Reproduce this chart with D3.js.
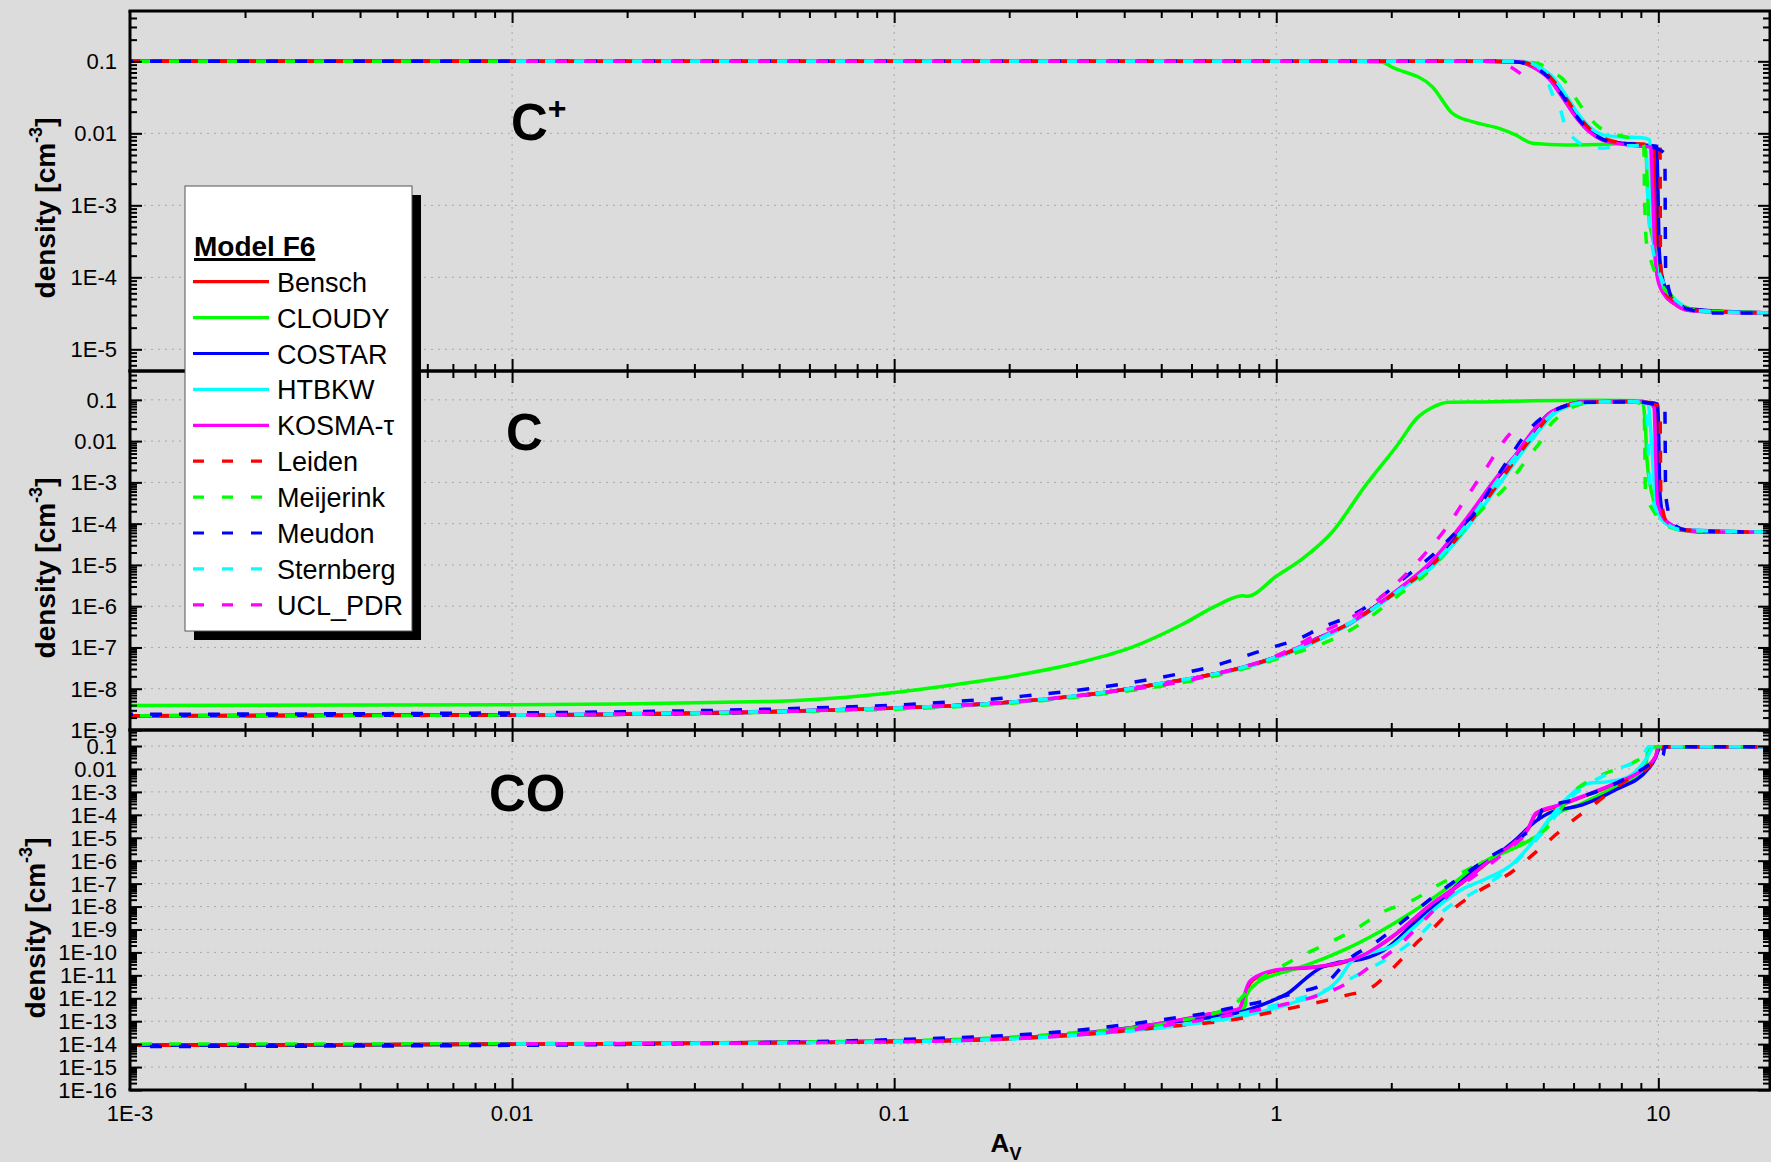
<!DOCTYPE html>
<html><head><meta charset="utf-8">
<script src="https://cdn.jsdelivr.net/npm/d3@7"></script>
<style>html,body{margin:0;padding:0;background:#dcdcdc;}svg{display:block;}</style>
</head><body>
<svg id="chart" width="1771" height="1162"></svg>
<script>
// ---------- series names ----------
const seriesNames = ["Bensch","CLOUDY","COSTAR","HTBKW","KOSMA-\u03c4","Leiden","Meijerink","Meudon","Sternberg","UCL_PDR"];
const xTickValues = [1e-3, 1e-2, 1e-1, 1, 10];
const xTickLabels = ["1E-3","0.01","0.1","1","10"];

// ---------- C+ panel : [A_V, density] ----------
const cp_Bensch = [[0.001,0.1],[3.5,0.1],[4.3,0.099],[4.78,0.08],[5.16,0.06],[5.6,0.033],[6.07,0.0175],[6.58,0.0108],[7.13,8.2e-3],[7.87,7.3e-3],[9.06,6.7e-3],[9.7,6.5e-3],[9.8,1.5e-3],[9.9,2.5e-4],[10.0,1.1e-4],[10.4,5.8e-5],[11,4.3e-5],[12,3.5e-5],[19.6,3.2e-5]];
const cp_CLOUDY = [[0.001,0.1],[1.5,0.1],[1.89,0.098],[2.0,0.084],[2.56,0.0445],[2.89,0.019],[3.26,0.0145],[3.83,0.0117],[4.23,0.0095],[4.68,7.3e-3],[5.72,6.9e-3],[6.98,7.0e-3],[8.5,7.2e-3],[9.25,6.5e-3],[9.44,7.0e-4],[9.6,4.1e-4],[9.93,1.93e-4],[10.2,9.2e-5],[10.87,5.4e-5],[11.5,4.1e-5],[12.7,3.5e-5],[19.6,3.2e-5]];
const cp_COSTAR = [[0.001,0.1],[3.5,0.1],[4.3,0.099],[4.78,0.08],[5.16,0.062],[5.6,0.035],[6.07,0.019],[6.58,0.0112],[7.13,8.3e-3],[7.87,7.4e-3],[9.06,6.9e-3],[9.9,6.6e-3],[9.98,1.5e-3],[10.05,2.5e-4],[10.2,1.1e-4],[10.6,6.0e-5],[11.2,4.4e-5],[12.3,3.6e-5],[19.6,3.2e-5]];
const cp_HTBKW = [[0.01,0.1],[3.5,0.1],[4.4,0.1],[4.9,0.082],[5.3,0.06],[5.75,0.033],[6.2,0.018],[6.7,0.0115],[7.3,9.3e-3],[8.0,8.9e-3],[9.06,8.7e-3],[9.5,8.1e-3],[9.6,1.5e-3],[9.75,2.5e-4],[9.95,1.2e-4],[10.4,6.0e-5],[11,4.4e-5],[12,3.5e-5],[19.6,3.2e-5]];
const cp_KOSMA = [[0.01,0.1],[3.5,0.1],[4.3,0.099],[4.78,0.079],[5.16,0.058],[5.6,0.032],[6.07,0.017],[6.58,0.0106],[7.13,8.1e-3],[7.87,7.2e-3],[9.06,6.6e-3],[9.55,6.5e-3],[9.68,1.17e-3],[9.82,1.74e-4],[9.93,1.02e-4],[10.3,6.0e-5],[10.96,4.4e-5],[11.9,3.5e-5],[14.0,3.3e-5],[19.6,3.2e-5]];
const cp_Leiden = [[0.001,0.1],[3.5,0.1],[4.3,0.099],[4.85,0.08],[5.25,0.058],[5.7,0.032],[6.2,0.017],[6.7,0.0108],[7.3,8.3e-3],[8.0,7.4e-3],[9.06,7.1e-3],[10.1,6.8e-3],[10.13,1.6e-4],[10.3,7.1e-5],[11,4.7e-5],[12.5,3.5e-5],[19.6,3.2e-5]];
const cp_Meijerink = [[0.001,0.1],[4.3,0.1],[4.9,0.091],[5.27,0.072],[5.71,0.052],[6.07,0.031],[6.38,0.021],[6.98,0.0123],[7.57,0.01],[8.36,8.7e-3],[9.06,7.6e-3],[9.16,6.9e-3],[9.2,1.6e-3],[9.3,3.2e-4],[9.6,1.6e-4],[10.2,7.9e-5],[11,5.0e-5],[12.5,3.5e-5],[19.6,3.2e-5]];
const cp_Meudon = [[0.001,0.1],[3.5,0.1],[4.2,0.099],[4.7,0.085],[5.16,0.06],[5.6,0.034],[6.07,0.018],[6.58,0.011],[7.13,8.3e-3],[7.87,7.4e-3],[9.06,6.9e-3],[9.8,6.3e-3],[10.4,5.2e-3],[10.45,1.26e-4],[10.9,5.0e-5],[12,3.6e-5],[14,3.2e-5],[19.6,3.2e-5]];
const cp_Sternberg = [[0.01,0.1],[4.0,0.1],[4.6,0.095],[5.0,0.071],[5.32,0.032],[5.55,0.021],[5.71,0.0123],[6.01,8.5e-3],[6.58,6.5e-3],[7.13,6.2e-3],[7.94,6.6e-3],[9.0,6.8e-3],[9.3,5.6e-3],[9.4,1.0e-3],[9.6,3.2e-4],[10.0,1.26e-4],[10.5,7.1e-5],[11.5,4.2e-5],[13,3.4e-5],[19.6,3.2e-5]];
const cp_UCL = [[0.01,0.1],[3.8,0.1],[4.1,0.084],[4.4,0.065]];

// ---------- C panel ----------
const c_Bensch = [[0.001,2.2e-9],[0.01,2.3e-9],[0.1,3.4e-9],[0.2,4.7e-9],[0.31,6.9e-9],[0.465,1.2e-8],[0.695,2.3e-8],[0.849,3.6e-8],[1.0,5.9e-8],[1.147,9.3e-8],[1.27,1.6e-7],[1.4,2.3e-7],[1.56,3.8e-7],[1.71,6.8e-7],[2.1,2.6e-6],[2.56,1.15e-5],[3.13,1.07e-4],[3.45,4.0e-4],[3.83,1.45e-3],[4.24,4.5e-3],[4.68,1.6e-2],[5.16,4.5e-2],[5.71,7.1e-2],[6.32,8.9e-2],[8.53,9.1e-2],[9.3,8.7e-2],[9.8,8.3e-2],[9.9,5.0e-2],[9.97,1.0e-3],[10.1,2.0e-4],[10.4,1.1e-4],[11.5,7.1e-5],[12.7,6.3e-5],[19.6,6.2e-5]];
const c_CLOUDY = [[0.001,3.9e-9],[0.01,4.1e-9],[0.05,5.0e-9],[0.1,8.1e-9],[0.139,1.2e-8],[0.208,2.1e-8],[0.311,4.5e-8],[0.42,1.02e-7],[0.57,3.7e-7],[0.7,1.05e-6],[0.815,1.8e-6],[0.84,1.75e-6],[1.0,5.3e-6],[1.17,1.4e-5],[1.4,6.2e-5],[1.71,8.3e-4],[2.1,9.3e-3],[2.32,3.4e-2],[2.56,6.5e-2],[2.83,8.7e-2],[3.5,8.9e-2],[4.68,9.5e-2],[6.8,9.8e-2],[9.1,9.5e-2],[9.16,6.5e-2],[9.25,2.3e-2],[9.34,3.6e-3],[9.6,5.8e-4],[10.0,1.86e-4],[10.8,8.9e-5],[11.7,6.8e-5],[19.6,6.2e-5]];
const c_COSTAR = [[0.001,2.2e-9],[0.01,2.3e-9],[0.1,3.4e-9],[0.2,4.7e-9],[0.31,6.9e-9],[0.465,1.2e-8],[0.695,2.3e-8],[0.849,3.6e-8],[1.0,5.9e-8],[1.147,9.3e-8],[1.27,1.6e-7],[1.4,2.3e-7],[1.56,3.8e-7],[1.71,6.8e-7],[2.1,2.6e-6],[2.56,1.15e-5],[3.13,1.07e-4],[3.45,4.0e-4],[3.83,1.45e-3],[4.24,4.5e-3],[4.68,1.6e-2],[5.16,4.5e-2],[5.71,7.1e-2],[6.32,8.9e-2],[8.53,9.1e-2],[9.95,7.9e-2],[10.0,3.2e-2],[10.1,5.0e-4],[10.4,1.1e-4],[11.5,7.1e-5],[19.6,6.2e-5]];
const c_HTBKW = [[0.01,2.3e-9],[0.1,3.4e-9],[0.2,4.6e-9],[0.465,1.2e-8],[1.0,5.6e-8],[1.4,2.2e-7],[1.71,6.3e-7],[2.1,2.4e-6],[2.56,8.9e-6],[3.13,7.1e-5],[3.83,8.9e-4],[4.68,1.12e-2],[5.5,5.6e-2],[6.5,8.5e-2],[8.5,9.1e-2],[9.4,7.9e-2],[9.6,1.0e-2],[9.8,5.0e-4],[10.2,1.26e-4],[11.5,7.1e-5],[19.6,6.2e-5]];
const c_KOSMA = [[0.01,2.3e-9],[0.1,3.4e-9],[0.2,4.7e-9],[0.31,6.9e-9],[0.465,1.2e-8],[0.695,2.3e-8],[1.0,5.9e-8],[1.27,1.6e-7],[1.56,3.9e-7],[2.1,2.7e-6],[2.56,1.26e-5],[3.13,1.26e-4],[3.83,1.58e-3],[4.24,4.8e-3],[4.68,1.7e-2],[5.16,4.6e-2],[5.71,7.2e-2],[6.32,8.9e-2],[8.53,9.1e-2],[9.5,8.3e-2],[9.75,6.3e-2],[9.85,3.2e-3],[9.95,3.2e-4],[10.4,1.26e-4],[11.5,7.4e-5],[12.7,6.5e-5],[19.6,6.2e-5]];
const c_Leiden = [[0.001,2.2e-9],[0.01,2.3e-9],[0.1,3.4e-9],[0.2,4.7e-9],[0.465,1.2e-8],[1.0,5.9e-8],[1.4,2.3e-7],[1.71,6.6e-7],[2.1,2.5e-6],[2.56,1.0e-5],[3.13,7.9e-5],[3.83,1.0e-3],[4.68,1.26e-2],[5.5,6.3e-2],[6.5,8.7e-2],[8.5,9.1e-2],[10.1,7.1e-2],[10.15,5.0e-4],[10.5,1.12e-4],[11.5,7.1e-5],[19.6,6.2e-5]];
const c_Meijerink = [[0.001,2.2e-9],[0.01,2.3e-9],[0.1,3.2e-9],[0.3,6.3e-9],[0.7,2.1e-8],[1.0,5.2e-8],[1.56,2.6e-7],[2.1,1.9e-6],[2.56,8.5e-6],[3.0,5.0e-5],[3.5,2.5e-4],[3.98,7.6e-4],[4.14,1.2e-3],[4.68,5.4e-3],[4.9,9.3e-3],[5.27,2.8e-2],[5.45,3.7e-2],[6.07,7.1e-2],[6.68,8.7e-2],[8.5,8.9e-2],[9.1,7.9e-2],[9.2,2.5e-2],[9.25,6.3e-4],[9.8,1.78e-4],[10.5,8.9e-5],[12,6.6e-5],[19.6,6.2e-5]];
const c_Meudon = [[0.001,2.4e-9],[0.01,2.6e-9],[0.1,4.0e-9],[0.139,4.8e-9],[0.188,5.8e-9],[0.23,7.0e-9],[0.275,8.3e-9],[0.388,1.26e-8],[0.557,2.3e-8],[0.668,3.3e-8],[0.792,5.4e-8],[0.949,9.3e-8],[1.14,1.6e-7],[1.32,3.1e-7],[1.57,5.9e-7],[1.85,1.5e-6],[2.15,4.6e-6],[2.59,1.86e-5],[3.07,8.9e-5],[3.26,1.55e-4],[3.9,2.1e-3],[4.68,2.3e-2],[5.71,7.1e-2],[6.5,8.7e-2],[8.5,8.9e-2],[10.4,7.1e-2],[10.45,5.0e-4],[10.9,1.0e-4],[12,6.8e-5],[19.6,6.2e-5]];
const c_Sternberg = [[0.01,2.3e-9],[0.1,3.4e-9],[0.2,4.7e-9],[0.465,1.2e-8],[1.0,5.9e-8],[1.4,2.3e-7],[1.71,6.6e-7],[2.1,2.5e-6],[2.56,1.0e-5],[3.13,8.9e-5],[3.83,1.26e-3],[4.68,1.4e-2],[5.5,6.0e-2],[6.5,8.7e-2],[8.5,9.1e-2],[9.2,8.5e-2],[9.35,3.2e-2],[9.5,1.0e-3],[9.9,2.0e-4],[10.5,1.0e-4],[11.5,7.1e-5],[19.6,6.2e-5]];
const c_UCL = [[0.01,2.3e-9],[0.1,3.4e-9],[0.3,6.8e-9],[0.7,2.3e-8],[1.03,7.1e-8],[1.27,2.0e-7],[1.49,4.1e-7],[1.71,8.5e-7],[2.06,3.5e-6],[2.38,1.38e-5],[2.77,7.4e-5],[3.13,4.0e-4],[3.53,2.1e-3],[3.98,1.12e-2],[4.19,1.95e-2],[4.3,2.5e-2]];

// ---------- CO panel ----------
const co_Bensch = [[0.001,8.9e-15],[0.01,1.0e-14],[0.1,1.32e-14],[0.3,2.8e-14],[0.557,1.07e-13],[0.68,2.1e-13],[0.8,3.3e-13],[0.826,1.26e-12],[0.855,4.7e-12],[0.92,1.05e-11],[1.016,1.66e-11],[1.24,2.2e-11],[1.46,3.3e-11],[1.68,7.1e-11],[2.05,6.0e-10],[2.51,1.0e-8],[3.06,1.05e-7],[3.74,1.5e-6],[4.14,5.0e-6],[4.57,2.5e-5],[4.78,1.05e-4],[5.5,2.5e-4],[6.32,6.0e-4],[7.73,2.3e-3],[9.08,9.1e-3],[9.84,3.5e-2],[10.02,9.3e-2],[19.6,9.3e-2]];
const co_CLOUDY = [[0.001,8.9e-15],[0.01,1.0e-14],[0.1,1.32e-14],[0.3,2.8e-14],[0.557,1.0e-13],[0.8,2.5e-13],[0.83,5.0e-13],[0.835,1.32e-12],[0.883,4.2e-12],[0.977,9.8e-12],[1.12,1.9e-11],[1.32,5.1e-11],[1.52,1.38e-10],[1.85,7.4e-10],[2.26,5.5e-9],[2.77,5.6e-8],[3.39,6.9e-7],[4.14,3.2e-6],[4.57,7.2e-6],[5.06,2.8e-5],[5.16,6.0e-5],[6.32,3.2e-4],[7.73,1.7e-3],[9.25,1.26e-2],[9.44,9.3e-2],[19.6,9.3e-2]];
const co_COSTAR = [[0.001,8.9e-15],[0.01,1.0e-14],[0.1,1.32e-14],[0.3,2.8e-14],[0.557,1.0e-13],[0.83,2.9e-13],[0.977,7.9e-13],[1.08,1.8e-12],[1.19,6.9e-12],[1.29,1.9e-11],[1.46,3.7e-11],[1.68,5.1e-11],[1.93,1.38e-10],[2.26,1.45e-9],[2.77,2.9e-8],[3.25,3.0e-7],[3.74,1.58e-6],[4.14,6.0e-6],[4.85,6.3e-5],[5.16,1.17e-4],[6.32,2.7e-4],[7.73,1.23e-3],[9.44,1.07e-2],[10.0,6.8e-2],[10.05,9.3e-2],[19.6,9.3e-2]];
const co_HTBKW = [[0.01,1.0e-14],[0.1,1.26e-14],[0.3,2.5e-14],[0.557,6.5e-14],[0.83,1.78e-13],[1.12,6.8e-13],[1.37,2.6e-12],[1.46,6.9e-12],[1.58,4.4e-11],[1.78,1.0e-10],[2.01,1.95e-10],[2.26,1.02e-9],[2.66,1.07e-8],[3.06,5.6e-8],[3.52,1.55e-7],[4.14,6.9e-7],[4.67,6.0e-6],[5.16,6.0e-5],[5.83,6.3e-4],[6.58,2.4e-3],[7.43,2.8e-3],[8.37,4.7e-3],[9.25,2.45e-2],[9.64,7.9e-2],[9.7,9.3e-2],[19.6,9.3e-2]];
const co_KOSMA = [[0.01,1.0e-14],[0.1,1.32e-14],[0.3,2.8e-14],[0.557,1.12e-13],[0.68,2.2e-13],[0.8,3.5e-13],[0.824,1.32e-12],[0.849,5.0e-12],[0.918,1.15e-11],[1.016,1.78e-11],[1.24,2.24e-11],[1.46,3.5e-11],[1.68,7.2e-11],[2.05,6.3e-10],[2.51,1.07e-8],[3.06,1.1e-7],[3.74,1.58e-6],[4.14,5.1e-6],[4.57,2.7e-5],[4.78,1.17e-4],[5.5,2.7e-4],[6.32,6.3e-4],[7.73,2.4e-3],[9.08,9.1e-3],[9.84,3.5e-2],[10.0,9.3e-2],[19.6,9.3e-2]];
const co_Leiden = [[0.001,8.9e-15],[0.01,1.0e-14],[0.1,1.26e-14],[0.3,2.5e-14],[0.557,6.5e-14],[0.75,1.07e-13],[1.016,2.9e-13],[1.52,1.32e-12],[1.78,3.0e-12],[2.01,1.9e-11],[2.13,5.1e-11],[2.36,3.2e-10],[2.51,7.4e-10],[2.77,3.9e-9],[2.94,9.1e-9],[3.39,4.8e-8],[4.1,2.9e-7],[4.86,3.0e-6],[5.71,3.1e-5],[6.85,3.2e-4],[8.05,2.4e-3],[9.44,1.26e-2],[10.2,4.8e-2],[10.3,9.3e-2],[19.6,9.3e-2]];
const co_Meijerink = [[0.001,1.0e-14],[0.01,1.05e-14],[0.1,1.4e-14],[0.3,3.2e-14],[0.557,1.0e-13],[0.78,5.6e-13],[0.82,1.3e-12],[0.9,6.3e-12],[1.0,1.8e-11],[1.12,5.1e-11],[1.35,2.3e-10],[1.61,1.02e-9],[1.89,5.5e-9],[2.26,1.78e-8],[2.72,1.1e-7],[3.18,4.2e-7],[3.74,1.58e-6],[4.4,5.9e-6],[5.06,2.3e-5],[6.08,1.23e-3],[7.28,6.5e-3],[8.55,1.78e-2],[9.44,6.8e-2],[9.5,9.3e-2],[19.6,9.3e-2]];
const co_Meudon = [[0.001,7.9e-15],[0.01,8.9e-15],[0.1,1.58e-14],[0.3,4.0e-14],[0.557,1.48e-13],[0.653,2.2e-13],[0.78,4.1e-13],[0.94,7.9e-13],[1.12,1.7e-12],[1.35,4.7e-12],[1.55,5.1e-11],[1.82,2.7e-10],[2.18,2.8e-9],[2.56,2.45e-8],[3.06,2.1e-7],[3.6,1.35e-6],[4.4,1.17e-5],[4.85,6.3e-5],[4.97,1.66e-4],[5.96,4.5e-4],[7.43,1.7e-3],[9.44,1.48e-2],[10.3,4.1e-2],[10.4,9.3e-2],[19.6,9.3e-2]];
const co_Sternberg = [[0.01,1.0e-14],[0.1,1.26e-14],[0.3,2.5e-14],[0.557,6.5e-14],[1.016,5.6e-13],[1.37,2.6e-12],[1.68,1.35e-11],[2.01,7.2e-11],[2.36,5.2e-10],[2.77,7.6e-9],[3.39,5.6e-8],[4.14,5.9e-7],[4.77,7.4e-6],[6.08,8.7e-4],[7.73,9.1e-3],[9.08,3.5e-2],[9.44,9.3e-2],[19.6,9.3e-2]];
const co_UCL = [[0.01,1.0e-14],[0.1,1.26e-14],[0.3,2.5e-14],[0.557,7.9e-14],[0.83,2.45e-13],[1.016,4.8e-13],[1.24,1.1e-12],[1.49,3.5e-12],[1.75,2.24e-11],[2.09,1.95e-10],[2.45,2.8e-9],[2.88,4.1e-8],[3.39,3.0e-7],[4.06,3.1e-6],[4.57,1.66e-5]];

// ---------- styles (kept apart from data) ----------
const seriesColors = ["#ff0000","#00ff00","#0000ff","#00ffff","#ff00ff","#ff0000","#00ff00","#0000ff","#00ffff","#ff00ff"];
const seriesDashed = [false,false,false,false,false,true,true,true,true,true];
const dashOffsets = [0,0,0,0,0,0,-10,-20,-4,-14];
const FONT = "'Liberation Sans', Arial, Helvetica, sans-serif";

const panels = [
  {series:[cp_Bensch,cp_CLOUDY,cp_COSTAR,cp_HTBKW,cp_KOSMA,cp_Leiden,cp_Meijerink,cp_Meudon,cp_Sternberg,cp_UCL],
   ymin:5e-6, top:11, bottom:371, maxExp:5, label:"C", sup:"+", lx:511, ly:140, tx:55, ty:208},
  {series:[c_Bensch,c_CLOUDY,c_COSTAR,c_HTBKW,c_KOSMA,c_Leiden,c_Meijerink,c_Meudon,c_Sternberg,c_UCL],
   ymin:1e-9, top:371, bottom:730, maxExp:9, label:"C", sup:"", lx:506, ly:450, tx:55, ty:568},
  {series:[co_Bensch,co_CLOUDY,co_COSTAR,co_HTBKW,co_KOSMA,co_Leiden,co_Meijerink,co_Meudon,co_Sternberg,co_UCL],
   ymin:1e-16, top:730, bottom:1090, maxExp:16, label:"CO", sup:"", lx:489, ly:811, tx:45, ty:928}
];

const svg = d3.select("#chart");
const W = 1771, H = 1162;
const left = 130, right = 1770;
svg.append("rect").attr("width",W).attr("height",H).attr("fill","#dcdcdc");

const x = d3.scaleLog().domain([1e-3, 19.6]).range([left, right]);

const xMinor = [];
for (let e=-3; e<=1; e++) for (let m=2; m<=9; m++) { const v=m*Math.pow(10,e); if (v<19.6) xMinor.push(v); }

function styleAxis(g){ g.select(".domain").remove(); g.selectAll(".tick line").attr("stroke","#000").attr("stroke-width",2); g.selectAll("text").remove(); }

panels.forEach((p, pi) => {
  const y = d3.scaleLog().domain([p.ymin, 0.5]).range([p.bottom, p.top]);
  const g = svg.append("g");
  const majors = d3.range(1, p.maxExp+1).map(k => Math.pow(10,-k));
  const yMinor = [];
  for (let k=1; k<=p.maxExp; k++) for (let m=2; m<=9; m++) { const vv = m*Math.pow(10,-k-1); if (vv>=p.ymin && vv<0.5) yMinor.push(vv); }
  [2,3,4].forEach(m => yMinor.push(m*0.1));

  // grid
  const grid = g.append("g").attr("stroke","#a8a8a8").attr("stroke-width",1).attr("stroke-dasharray","2,5");
  majors.forEach(v => { if (v > p.ymin) grid.append("line").attr("x1",left).attr("x2",right).attr("y1",y(v)).attr("y2",y(v)); });
  [0.01,0.1,1,10].forEach(v => grid.append("line").attr("x1",x(v)).attr("x2",x(v)).attr("y1",p.top).attr("y2",p.bottom));

  // clip
  const cid = "clip"+pi;
  svg.append("clipPath").attr("id",cid).append("rect").attr("x",left).attr("y",p.top).attr("width",right-left).attr("height",p.bottom-p.top);

  // lines
  const line = d3.line().x(d=>x(d[0])).y(d=>y(d[1])).curve(d3.curveMonotoneX);
  const lg = g.append("g").attr("clip-path","url(#"+cid+")");
  p.series.forEach((s,i) => {
    lg.append("path").attr("d", line(s)).attr("fill","none")
      .attr("stroke", seriesColors[i]).attr("stroke-width",3.5)
      .attr("stroke-linejoin","round")
      .attr("stroke-dasharray", seriesDashed[i] ? "12,17" : null)
      .attr("stroke-dashoffset", dashOffsets[i]);
  });

  // axes: ticks inward
  g.append("g").attr("transform",`translate(0,${p.top})`).call(d3.axisTop(x).tickValues(xTickValues.slice(1)).tickSize(-12)).call(styleAxis);
  g.append("g").attr("transform",`translate(0,${p.top})`).call(d3.axisTop(x).tickValues(xMinor).tickSize(-7)).call(styleAxis);
  g.append("g").attr("transform",`translate(0,${p.bottom})`).call(d3.axisBottom(x).tickValues(xTickValues.slice(1)).tickSize(-12)).call(styleAxis);
  g.append("g").attr("transform",`translate(0,${p.bottom})`).call(d3.axisBottom(x).tickValues(xMinor).tickSize(-7)).call(styleAxis);
  g.append("g").attr("transform",`translate(${left},0)`).call(d3.axisLeft(y).tickValues(majors).tickSize(-12)).call(styleAxis);
  g.append("g").attr("transform",`translate(${left},0)`).call(d3.axisLeft(y).tickValues(yMinor).tickSize(-7)).call(styleAxis);
  g.append("g").attr("transform",`translate(${right},0)`).call(d3.axisRight(y).tickValues(majors).tickSize(-12)).call(styleAxis);
  g.append("g").attr("transform",`translate(${right},0)`).call(d3.axisRight(y).tickValues(yMinor).tickSize(-7)).call(styleAxis);

  // frame
  const fr = g.append("g").attr("stroke","#000").attr("stroke-width",3);
  fr.append("line").attr("x1",left-1.5).attr("x2",right+1.5).attr("y1",p.top).attr("y2",p.top);
  fr.append("line").attr("x1",left-1.5).attr("x2",right+1.5).attr("y1",p.bottom).attr("y2",p.bottom);
  fr.append("line").attr("x1",left).attr("x2",left).attr("y1",p.top).attr("y2",p.bottom);
  fr.append("line").attr("x1",right).attr("x2",right).attr("y1",p.top).attr("y2",p.bottom);

  // y tick labels
  majors.forEach((v,k) => {
    const e = k+1;
    const lab = e===1 ? "0.1" : e===2 ? "0.01" : "1E-"+e;
    g.append("text").attr("x",117).attr("y",y(v)).attr("dy","0.36em").attr("text-anchor","end")
      .attr("font-family",FONT).attr("font-size",22).attr("fill","#000").text(lab);
  });

  // y title
  const t = g.append("text").attr("transform",`translate(${p.tx},${p.ty}) rotate(-90)`)
    .attr("text-anchor","middle").attr("font-family",FONT).attr("font-weight","bold").attr("font-size",28).attr("fill","#000");
  t.append("tspan").text("density [cm");
  t.append("tspan").attr("font-size",18).attr("dy",-13).text("-3");
  t.append("tspan").attr("dy",13).text("]");

  // panel label
  const pl = g.append("text").attr("x",p.lx).attr("y",p.ly).attr("font-family",FONT).attr("font-weight","bold").attr("font-size",51).attr("fill","#000");
  pl.append("tspan").text(p.label);
  if (p.sup) pl.append("tspan").attr("font-size",32).attr("dy",-21).text(p.sup);
});

// x tick labels
xTickValues.forEach((v,i) => {
  svg.append("text").attr("x",x(v)).attr("y",1121).attr("text-anchor","middle")
    .attr("font-family",FONT).attr("font-size",22).attr("fill","#000").text(xTickLabels[i]);
});
// x title
const xt = svg.append("text").attr("x",1006).attr("y",1152).attr("text-anchor","middle")
  .attr("font-family",FONT).attr("font-weight","bold").attr("font-size",26).attr("fill","#000");
xt.append("tspan").text("A");
xt.append("tspan").attr("font-size",18).attr("dy",8).text("V");

// legend
const lgd = svg.append("g");
lgd.append("rect").attr("x",194).attr("y",195).attr("width",227).attr("height",445).attr("fill","#000");
lgd.append("rect").attr("x",185).attr("y",186).attr("width",227).attr("height",445).attr("fill","#fff").attr("stroke","#555").attr("stroke-width",1);
const title = lgd.append("text").attr("x",194).attr("y",256).attr("font-family",FONT).attr("font-weight","bold").attr("font-size",28).attr("fill","#000").text("Model F6");
const tw = title.node().getComputedTextLength();
lgd.append("rect").attr("x",194).attr("y",258).attr("width",tw).attr("height",3).attr("fill","#000");
seriesNames.forEach((n,i) => {
  const ly = 281.7 + 35.9*i;
  lgd.append("line").attr("x1",193).attr("x2",269).attr("y1",ly).attr("y2",ly)
    .attr("stroke",seriesColors[i]).attr("stroke-width",3.2)
    .attr("stroke-dasharray", seriesDashed[i] ? "11,18" : null);
  lgd.append("text").attr("x",277).attr("y",ly+10).attr("font-family",FONT).attr("font-size",27).attr("fill","#000").text(n);
});
</script></body></html>
